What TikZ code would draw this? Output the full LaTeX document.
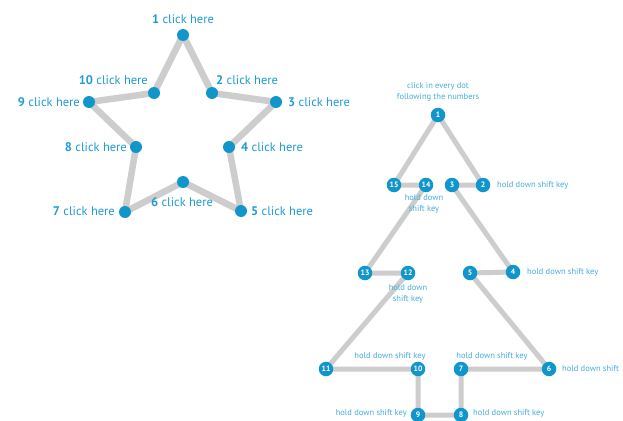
\documentclass[tikz,border=0pt]{standalone}
\usepackage{fontspec}
\setmainfont{PT Sans}
\definecolor{dotblue}{HTML}{1196CB}
\definecolor{txtblue}{HTML}{1E9CD2}
\definecolor{lightblue}{HTML}{45AEDB}
\definecolor{linegray}{HTML}{CDCDCD}
\tikzset{
  sdot/.style={circle,fill=dotblue,inner sep=0pt,minimum size=12pt},
  tdot/.style={circle,fill=dotblue,inner sep=0pt,minimum size=14.5pt,text=white,font=\fontsize{7.8}{9}\selectfont\bfseries},
  slabel/.style={inner sep=0pt,text=txtblue,font=\fontsize{12.5}{14}\selectfont},
  tlabel/.style={inner sep=0pt,text=lightblue,font=\fontsize{8.5}{10.5}\selectfont,align=center},
  sline/.style={draw=linegray,line width=6.5pt,line join=round},
  tline/.style={draw=linegray,line width=5pt,line join=round}
}
\begin{document}
\begin{tikzpicture}[x=1pt,y=-1pt]
\useasboundingbox (0,0) rectangle (623,420);
\clip (0,0) rectangle (623,420);
\fill[white] (0,0) rectangle (623,420);
% star points
\coordinate (s1) at (183,35);
\coordinate (s2) at (212,93);
\coordinate (s3) at (276,102);
\coordinate (s4) at (229,147);
\coordinate (s5) at (241,211);
\coordinate (s6) at (183,182);
\coordinate (s7) at (125,212);
\coordinate (s8) at (136,147);
\coordinate (s9) at (89,102);
\coordinate (s10) at (154,93);
\path[sline] (s1) -- (s2) -- (s3) -- (s4) -- (s5) -- (s6) -- (s7) -- (s8) -- (s9) -- (s10) -- cycle;
\foreach \i in {1,...,10} {\node[sdot] (d\i) at (s\i) {};}
% star labels
\node[slabel,anchor=base] (l1) at (183,24) {\textbf{1} click here};
\node[slabel,anchor=base east] (l10) at (148,84) {\textbf{10} click here};
\node[slabel,anchor=base west] (l2) at (216,84) {\textbf{2} click here};
\node[slabel,anchor=base east] (l9) at (80,106) {\textbf{9} click here};
\node[slabel,anchor=base west] (l3) at (288,106) {\textbf{3} click here};
\node[slabel,anchor=base east] (l8) at (127,151) {\textbf{8} click here};
\node[slabel,anchor=base west] (l4) at (241,151) {\textbf{4} click here};
\node[slabel,anchor=base east] (l7) at (115,215) {\textbf{7} click here};
\node[slabel,anchor=base] (l6) at (182,206) {\textbf{6} click here};
\node[slabel,anchor=base west] (l5) at (251,215) {\textbf{5} click here};
% tree
\coordinate (t1) at (438,115);
\coordinate (t2) at (483,185);
\coordinate (t3) at (452,185);
\coordinate (t4) at (513,272);
\coordinate (t5) at (470,273);
\coordinate (t6) at (549,369);
\coordinate (t7) at (461,369);
\coordinate (t8) at (461,415);
\coordinate (t9) at (418,415);
\coordinate (t10) at (418,369);
\coordinate (t11) at (326,369);
\coordinate (t12) at (408,273);
\coordinate (t13) at (365,273);
\coordinate (t14) at (426,185);
\coordinate (t15) at (394,185);
\path[tline] (t1) -- (t2) -- (t3) -- (t4) -- (t5) -- (t6) -- (t7) -- (t8) -- (t9) -- (t10) -- (t11) -- (t12) -- (t13) -- (t14) -- (t15) -- cycle;
\foreach \i in {1,...,15} {\node[tdot] (n\i) at (t\i) {\i};}
% tree labels
\node[tlabel] (h0) at (438,92) {click in every dot\\following the numbers};
\node[tlabel,anchor=west] (h2) at (497,185) {hold down shift key};
\node[tlabel] (h14) at (424,204) {hold down\\shift key};
\node[tlabel,anchor=west] (h4) at (527,272) {hold down shift key};
\node[tlabel] (h12) at (408,294) {hold down\\shift key};
\node[tlabel] (h10) at (390,356) {hold down shift key};
\node[tlabel] (h7) at (492,356) {hold down shift key};
\node[tlabel,anchor=west] (h6) at (562,369) {hold down shift};
\node[tlabel,anchor=east] (h9) at (407,413) {hold down shift key};
\node[tlabel,anchor=west] (h8) at (473,413) {hold down shift key};
\end{tikzpicture}
\end{document}
